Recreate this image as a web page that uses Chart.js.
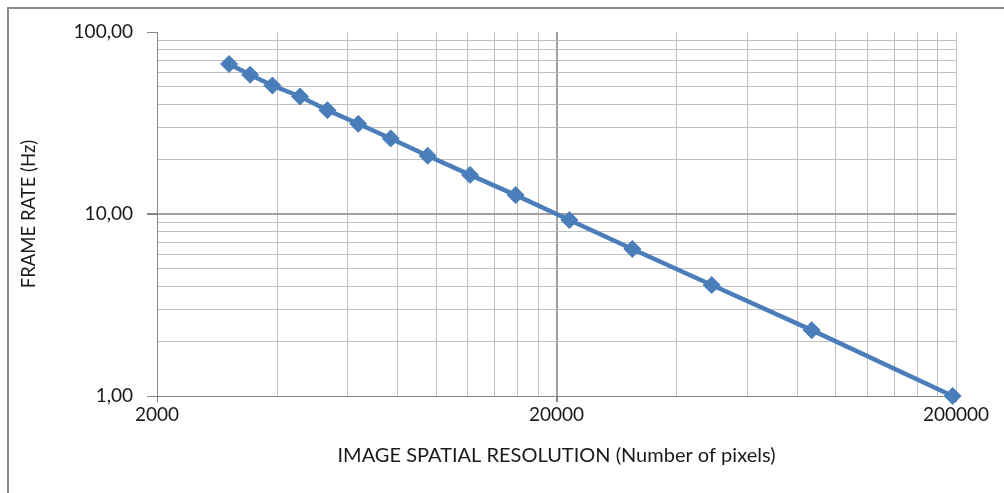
<!DOCTYPE html>
<html>
<head>
<meta charset="utf-8">
<script src="https://cdn.jsdelivr.net/npm/chart.js@4"></script>
<style>
  html, body { margin: 0; padding: 0; background: #fff; overflow: hidden; }
  #wrap { position: relative; width: 1004px; height: 493px; }
  #frame { position: absolute; left: 7px; top: 7px; width: 1100px; height: 600px;
           border-left: 2px solid #8a8a8a; border-top: 2px solid #8a8a8a; }
  canvas { position: absolute; left: 0; top: 0; }
</style>
</head>
<body>
<div id="wrap">
  <div id="frame"></div>
  <canvas id="chart" width="1004" height="493"></canvas>
</div>
<script>
// values
const resolution = [3030, 3420, 3890, 4560, 5340, 6380, 7690, 9520, 12150, 15810, 21540, 30960, 48930, 87060, 196200];
const frameRate = [66.7, 58.2, 50.8, 44.2, 37.2, 31.3, 26.0, 20.9, 16.4, 12.7, 9.27, 6.42, 4.07, 2.30, 1.00];

// gridlines as the reference shows them
const xGrid = [2000, 4000, 6000, 8000, 10000, 12000, 14000, 16000, 18000,
  20000, 40000, 60000, 80000, 100000, 120000, 140000, 160000, 180000, 200000];
const xLabels = [2000, 20000, 200000];
const yGrid = [1, 2, 3, 4, 5, 6, 7, 8, 9, 10, 20, 30, 40, 50, 60, 70, 80, 90, 100];
const yLabels = [1, 10, 100];

const lineColor = "#4a7ebb";
const fontFamily = "Lato, 'Open Sans', sans-serif";

const points = resolution.map((r, i) => ({ x: r, y: frameRate[i] }));

new Chart(document.getElementById("chart"), {
  type: "line",
  data: {
    datasets: [{
      data: points,
      borderColor: lineColor,
      backgroundColor: lineColor,
      borderWidth: 4.5,
      pointStyle: "rectRot",
      pointRadius: 8.5,
      pointBorderWidth: 1,
      pointBorderColor: lineColor,
      pointBackgroundColor: lineColor,
      tension: 0,
      clip: false
    }]
  },
  options: {
    responsive: false,
    animation: false,
    layout: { padding: { left: 0, top: 32, right: 48, bottom: 0 } },
    plugins: { legend: { display: false }, tooltip: { enabled: false } },
    scales: {
      x: {
        type: "logarithmic",
        min: 2000,
        max: 200000,
        afterBuildTicks: scale => { scale.ticks = xGrid.map(v => ({ value: v })); },
        afterFit: scale => { scale.height = 97; },
        border: { color: "#868686", width: 1 },
        grid: {
          color: ctx => ctx.tick && ctx.tick.value === 20000 ? "#a0a0a0" : "#c0c0c0",
          lineWidth: ctx => ctx.tick && ctx.tick.value === 20000 ? 2 : 1,
          tickLength: 6,
          tickColor: ctx => ctx.tick && xLabels.includes(ctx.tick.value) ? "#868686" : "rgba(0,0,0,0)"
        },
        ticks: {
          autoSkip: false,
          maxRotation: 0,
          padding: 1,
          color: "#1a1a1a",
          font: { family: fontFamily, size: 19 },
          callback: value => xLabels.includes(value) ? String(value) : ""
        },
        title: {
          display: true,
          text: "IMAGE SPATIAL RESOLUTION (Number of pixels)",
          color: "#1a1a1a",
          font: { family: fontFamily, size: 20 },
          padding: { top: 0, bottom: 25 }
        }
      },
      y: {
        type: "logarithmic",
        min: 1,
        max: 100,
        afterBuildTicks: scale => { scale.ticks = yGrid.map(v => ({ value: v })); },
        afterFit: scale => { scale.width = 157; },
        border: { color: "#868686", width: 1 },
        grid: {
          color: ctx => {
            if (!ctx.tick) return "#c0c0c0";
            if (ctx.tick.value === 100) return "rgba(0,0,0,0)";
            return ctx.tick.value === 10 ? "#a0a0a0" : "#c0c0c0";
          },
          lineWidth: ctx => ctx.tick && ctx.tick.value === 10 ? 2 : 1,
          tickLength: 10,
          tickColor: ctx => ctx.tick && yLabels.includes(ctx.tick.value) ? "#868686" : "rgba(0,0,0,0)"
        },
        ticks: {
          autoSkip: false,
          padding: 14,
          color: "#1a1a1a",
          font: { family: fontFamily, size: 19 },
          callback: value => yLabels.includes(value) ? value.toFixed(2).replace(".", ",") : ""
        },
        title: {
          display: true,
          text: "FRAME RATE (Hz)",
          color: "#1a1a1a",
          font: { family: fontFamily, size: 18.5 },
          padding: { top: 18, bottom: 0 }
        }
      }
    }
  }
});
</script>
</body>
</html>
